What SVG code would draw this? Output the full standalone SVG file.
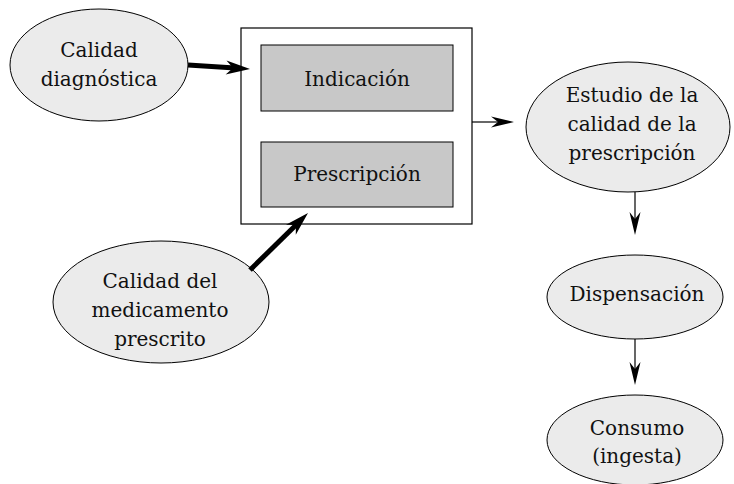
<svg xmlns="http://www.w3.org/2000/svg" width="734" height="484" viewBox="0 0 734 484">
<style>
.ell{fill:#ebebeb;stroke:#000;stroke-width:1}
.box{fill:#c8c8c8;stroke:#000;stroke-width:1}
.outer{fill:#fff;stroke:#000;stroke-width:1.2}
text{font-family:"DejaVu Serif","Liberation Serif",serif;font-size:20px;fill:#111;text-anchor:middle}
.thin{stroke:#000;stroke-width:1.2;fill:none}
.thick{stroke:#000;stroke-width:5;fill:none}
.head{fill:#000;stroke:none}
</style>
<defs>
<path id="hthin" d="M0,0 L-23,-5.5 L-16,0 L-23,5.5 Z"/>
<path id="hthick" d="M0,0 L-24,-7 L-17,0 L-24,7 Z"/>
</defs>
<g id="grupo">
<rect class="outer" x="241" y="28" width="231" height="196"/>
</g>
<g id="indicacion">
<rect class="box" x="261" y="45" width="192" height="66"/>
<text x="357" y="86">Indicación</text>
</g>
<g id="prescripcion">
<rect class="box" x="261" y="142" width="192" height="65"/>
<text x="357" y="181">Prescripción</text>
</g>
<g id="calidad-diagnostica">
<ellipse class="ell" cx="99" cy="65" rx="89" ry="56"/>
<text x="99" y="57">Calidad</text>
<text x="99" y="86">diagnóstica</text>
</g>
<g id="calidad-medicamento">
<ellipse class="ell" cx="161" cy="302" rx="108" ry="61"/>
<text x="160" y="288">Calidad del</text>
<text x="160" y="317">medicamento</text>
<text x="160" y="346">prescrito</text>
</g>
<g id="estudio">
<ellipse class="ell" cx="628" cy="127" rx="102" ry="65"/>
<text x="632" y="102">Estudio de la</text>
<text x="632" y="131">calidad de la</text>
<text x="632" y="160">prescripción</text>
</g>
<g id="dispensacion">
<ellipse class="ell" cx="635" cy="297" rx="88" ry="42"/>
<text x="637" y="301">Dispensación</text>
</g>
<g id="consumo">
<ellipse class="ell" cx="635" cy="440" rx="88" ry="45"/>
<text x="637" y="435">Consumo</text>
<text x="637" y="463">(ingesta)</text>
</g>
<g id="connectors">
<path class="thick" d="M188,65 L235,68"/>
<use href="#hthick" class="head" transform="translate(250,69) rotate(3.7)"/>
<path class="thick" d="M250,270 L297,224"/>
<use href="#hthick" class="head" transform="translate(308,213) rotate(-44.5)"/>
<path class="thin" d="M472,122 L500,122"/>
<use href="#hthin" class="head" transform="translate(514,122)"/>
<path class="thin" d="M635,192 L635,222"/>
<use href="#hthin" class="head" transform="translate(635,235) rotate(90)"/>
<path class="thin" d="M635,339 L635,372"/>
<use href="#hthin" class="head" transform="translate(635,385) rotate(90)"/>
</g>
</svg>
